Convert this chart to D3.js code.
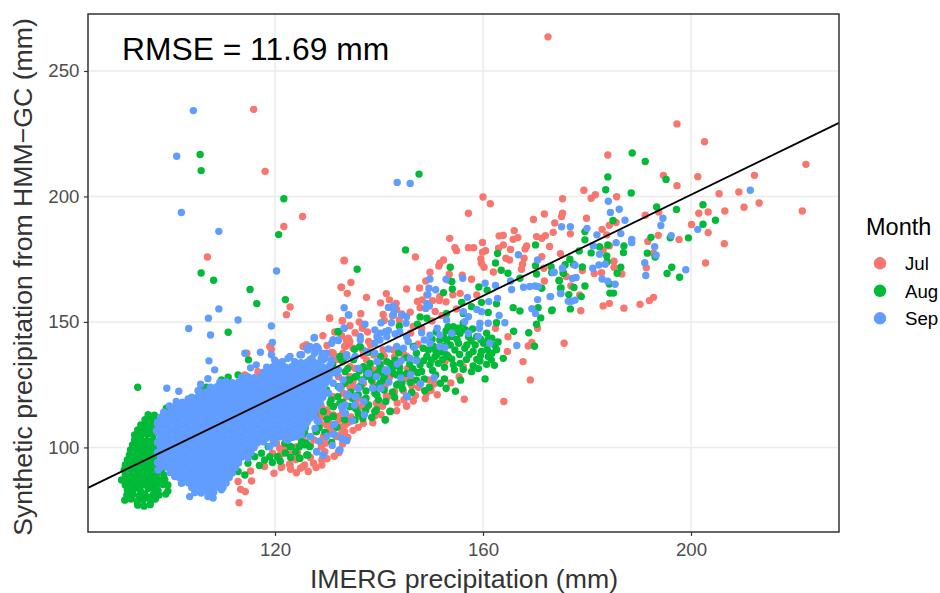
<!DOCTYPE html>
<html>
<head>
<meta charset="utf-8">
<script src="https://d3js.org/d3.v7.min.js"></script>
<style>
body { margin: 0; background: #fff; }
svg { display: block; }
text { font-family: "Liberation Sans", Arial, sans-serif; }
</style>
</head>
<body>
<svg width="940" height="593"></svg>
<script>
var months = ["Jul", "Aug", "Sep"];
var xTicks = [120, 160, 200];
var yTicks = [100, 150, 200, 250];
var fitX = [84.04, 228.46];
var fitY = [83.9, 229.3];

// [IMERG, synthetic]
var jul = [[197.3,228.9],[202.6,221.8],[222.1,212.8],[184,216.5],[194.7,208.4],[201.3,207.9],[212.2,208.4],[197.3,204.3],[179.4,202.5],[181.6,200.7],[180.8,199.3],[175.3,199.1],[185.7,199.9],[205.4,201.1],[209.2,201.8],[210.2,195.7],[213.1,197.4],[221.4,194.2],[206.5,194.2],[203.3,193.8],[201.5,193.3],[191.2,192.5],[193.8,193.8],[171.8,193],[175.3,193.3],[175.1,192],[179.9,191.3],[173.8,189.4],[185.6,189.6],[184.3,188.5],[182.9,186.9],[200.1,188.8],[173.5,185.7],[176.8,185.1],[172,184.4],[171.3,183.3],[183.8,184.7],[193.7,184.5],[191.7,182.1],[197.7,182.8],[203.3,185.6],[206.4,181.2],[172.8,180.1],[184.3,180.3],[183.1,178.7],[174.9,177.2],[171.3,176],[185.2,174.2],[202.8,173.5],[191.4,171.6],[185.2,171.8],[179.1,170.5],[181.4,169.3],[186.7,169.1],[182.8,169.6],[171.8,166.3],[171.7,171.4],[176,168.1],[176.9,164.3],[178.6,160.8],[192.8,159.8],[192,158.5],[190.2,157],[184.3,157.4],[183.1,156.4],[187.1,155.5],[178.8,154.5],[192.8,177.4],
[125.3,192],[160,199.8],[161.4,197.1],[157.2,193.3],[169.7,190.8],[166,186.4],[163.9,184.5],[163.1,184.3],[166.7,183.6],[165.8,182.9],[170.3,184],[153.6,183.3],[159.9,181.7],[163.9,180.7],[168.4,180.3],[168.1,179.1],[154.6,179.6],[154.9,178.4],[157.2,179.6],[158.2,179.6],[160.5,178.4],[159.9,177.8],[165.3,178.9],[163,179.4],[147,175.9],[133.3,174.6],[152.4,174.7],[151.7,173.4],[151.5,172.3],[159.6,175.1],[159.7,173.4],[160.2,171.8],[164.4,175.4],[165.1,174.7],[167.9,175.4],[167.6,173],[167.4,171],[162,169.9],[149.8,169.8],[153.5,169],[149,166.3],[156,168.6],[157.8,167],[153.3,166.7],[134.6,165.7],[132.8,163.8],[133.9,161.4],[145.3,163.1],[147.8,163.5],[141.4,161.3],[137.6,159.8],[142,158.8],[140.3,157.6],[143.3,157.4],[147.4,158.2],[148.3,158.8],[150.3,158.5],[151.6,158.5],[152.9,158],[155.6,161.4],[154.2,160.8],[158.8,160.8],[149.2,160.8],[151.7,160.1],[140.8,153],[136.5,153.3],[144.4,153.2],[130.5,151.6],[133,150.5],[134.4,148.5],[135.4,145.7],[134.1,143.5],[134.2,141.2],[133.5,140.2],[138,142.2],[138.4,140.8],[126,140.8],[130.9,137.8],[143.9,150.8],[162.4,147.5],[164.8,144.1],[170.5,147.5],[175.6,141.5],[169.4,141.8],[168.7,140.4],[164.7,138.2],[167.7,134.2],[169.1,126.9],[164,118.3],[156.4,119.2],[145.3,116.5],[156.2,132.2],[152.7,134.2],[149.5,126.9],[140.7,116.5],[135.1,124.2],[133.1,121.6],[132.2,112.3],[136.4,116.3],[135.7,118.9],[131.2,120.2],[133.8,126.9],[132.2,128.2],[134.4,132.2],[133.1,137.5],
[115.9,234.7],[118.1,210],[107,175.9],[172.5,263.6],[121.7,188],[133.3,174.4],[132.7,163.8],[122.9,156],[122.2,152.9],
[113.1,78],[114.3,82.4],[113.4,83.3],[112.9,86.4],[115.5,86.6],[115.3,90.6],[119.8,89.7],[121.2,92],[122.8,93.3],[123,91.3],[124.9,91.7],[125.7,93],[118,92.4],[124.3,98],[121.5,97.7],[121.9,99.7],[120.9,99.7],[119.5,97.7],[129.6,101.7],[129.6,103.7],[132.3,98],[129.9,109],[128.9,112.3],[130.2,113.6],[132.8,108.3],[133.4,106.3],[128.3,114.9],[128.9,116.3],[131.8,104.3],[130.5,151.5],[132.9,150.5],[119.3,139.1],[114.6,137.5],[126,140.8],[130.8,137.5],[114.2,128.9],[116.7,130.2],[133.7,142.8],[133.4,140.2],
[133.8,140.8],[134.4,142.2],[131.2,137.5],[138.3,141.5],[136.3,124.2],[134.4,124.2],[133.8,120.2],[132.5,117.6],[131.2,116.3],[129.9,114.9],[129.3,112.3],[131.2,112.9],[132.2,110.9],[133.5,109],[132.8,105.6],[130.6,108.3],[129.3,104.3],[129.6,101.7],[130.3,110.3],[128,118.9],[126.7,113.6],[127.4,116.3],[128.7,109.6],[125.4,103],[124.2,100.3],[121.6,99],[120.3,101.7],[121,97],[122.9,93],[125.4,92.4],[127.4,93.7],[121.3,92.4],[132.2,98.3],[129.6,98.3],[140.6,116.5],[145.3,116.5],[142.1,128.2],[141.2,124.9],[139.5,117.6],[137,118.9],[135.4,120.2],[132.8,124.2],[134.4,128.2],[138.3,132.2],[140.2,133.5],[145.3,136.2],[142.8,138.8],[140.8,138.8],[137.6,134.9],[135.4,131.5],[125.4,140.2],[119,140.2],
[131.5,146],[132.8,144.5],[136.8,147.5],[137.8,146],[136.2,150],[142.6,152.5],[143.4,155],[141,150.6],[129.2,144.5],[130,140.6],[135,139.5],[136.9,138.8],[139,136.8],[141,136.3],[143,136],[144.8,137],[131.8,135],[133,134.1],[137,136.6],[143.9,132.6],[145.5,131.5],[146.9,130.2],[139,130.9],[146.2,127.3],[144.7,122.6],[146.3,124.6],[147.6,124],[150,122.8],[150.6,125.3],[144.8,119],[143.5,117.7],[141.4,120.5],[137.7,116],[136.1,112.7],[134.6,112.1],[133,113.9],[134.1,109.9],[130.9,106],[127.5,103],[128.9,100.2],[126.8,100.8],[123,97.4],[124,95.2],[126.8,96],[129,95],[146.6,148.2],[148.2,147.5],[150.2,150.4],[152.1,152.6],[154.9,155.2],[146,153.9],[147.9,155.7],[150.8,154.2],[146.1,145.6],[147.5,141.1],
[135,126.2],[137,125.6],[138.9,125.1],[141.6,120],[143,122.3],[145,127.5],[147,120.7],[149.1,121.6],[151.2,121],[139.2,112.5],[137,109.6],[135,106.8],[133,101.4],[130,95.5],[127.9,92],[124.1,89.9],[126.4,90.4],[129,93],[131.4,96.5],[134,104],[136,108],[138.8,109.8],[140.4,113],[143.4,114.6],[146.6,118.5],[148.9,119.5],[153.8,125.7],[155.4,128.2]];

var aug = [[188.7,217.3],[191.2,213.9],[184,207.8],[195.2,206.8],[183.6,202.7],[188.5,201.4],[202.3,196.7],[193.4,195.8],[197.2,194.8],[204.7,190.5],[185,190.4],[202.3,188.9],[179.6,186],[179.6,182.7],[192.3,183.7],[196,183.5],[199.5,183.5],[182.4,180],[184,180.7],[187.1,180.3],[178.5,178.3],[180.8,177.5],[187,177.6],[191.6,177.4],[183.8,176.3],[193.1,175.9],[176.7,175],[183.9,174],[175.8,172.8],[177.4,173],[179.1,171.9],[186.5,171.8],[173.1,172],[196.3,171.8],[195.4,169.3],[197.8,167.8],[185.8,169.4],[173.2,169.7],[175.4,169.5],[174.6,166.5],[175,163.5],[177.5,163.7],[179.6,164.3],[176.5,160.9],[178.9,160.1],[184.4,161.5],[185.1,161.5],[171.3,163.4],[184.3,165.1],[173.3,154.8],[176.8,155.2],
[145.1,178.7],[135.8,171],[170.1,180.7],[162.8,177.3],[162.4,173.5],[153.7,171.8],[163.5,170.6],[164.8,169.4],[170.1,172.4],[170.3,169.1],[167.1,167.4],[174.7,166.5],[174.9,163.4],[175.5,169.4],[154,166.1],[154.1,163.1],[152.4,161.7],[159.2,163.9],[160.8,162.6],[162.6,157.2],[159.7,157.8],[157.8,156.1],[155.9,157.8],[161,153.8],[162.6,149.7],[165.8,155.7],[167.1,154.4],[170.6,155.7],[173.2,154.5],[171.1,151.6],[170.3,149.1],[165.9,146.3],[168.8,145.7],[169.9,140.3],[132.2,146.1],[136.4,140],[147.9,152],[149.2,151.5],[143.9,148.4],[147.4,149.1],[153,153.4],
[156.2,153.4],[154.3,148.1],[155.3,147.5],[153.3,148.1],[156.2,149.5],[152.4,144.2],[154,144.2],[155.6,145.5],[157.2,144.2],[158.8,144.2],[160.7,145.5],[161.7,143.5],[151.7,142.8],[153.7,140.8],[155.3,141.5],[156.9,140.8],[158.5,140.8],[160.1,141.5],[162.3,140.6],[150.5,140.2],[152.4,140.2],[149.5,138.8],[151.1,136.9],[153,136.9],[154.6,138.8],[156.5,139.5],[158.1,138.2],[159.7,138.2],[161.7,137.5],[163.9,135.5],[149.2,136.2],[150.8,136.2],[153.3,136.2],[158.8,135.1],[161,136.2],[147.9,132.9],[149.8,132.9],[151.4,133.5],[152.6,131.9],[154.3,132.9],[155.6,133.5],[158.1,132.5],[160.7,133.1],[162.2,132.7],[154.5,130.9],[157.8,130.2],[160.4,127.3],[150.9,128.9],[148.7,127.3],[147.2,126.8],[151.8,125.6],[148.8,122.6],[154.7,122.4],[146.6,140.2],[147.2,137.5],[148.5,139.5],
[150.2,143.1],[151,146],[152.9,146.5],[154.8,146.2],[156.6,146.9],[158,147.2],[159.6,143],[161,142.9],[162.9,142],[157.7,142.5],[155,143],[153,142.8],[150.9,138.5],[152,138],[155.5,137],[157.3,136.9],[159.5,136.5],[160.8,139],[162.6,138.9],[148.6,134.6],[150.1,134.8],[152.2,135],[154,135.2],[156.8,135],[159.4,134.4],[161.6,134.9],[156.2,131.1],[159.1,131.4],[146.5,131.4],[145.3,129.5],[147.5,129.8],[145.9,133.2],[144,131.6],[142.8,129.5],[141,128.4],[139.9,129.9],[137.6,130.1],[136.2,130.5],[136.5,124.6],[134.6,122],[137.5,122.5],[139.9,119],[141.3,118.3],[138,116.9],[136.9,111.5],
[133,118],[134.9,119.5],[136,121],[137.5,119.6],[139,124],[141,122.9],[142.6,122],[144.5,123.4],[146,125.9],[143,120],[135.5,115.5],[137.4,114.6],[133.4,111],[138.6,111.9],[130,111.2],[128.5,107.9],[130.9,102],[124,98.2],[122,97.8],[119.5,94],[117,92.8],[121,94.5],[123,96],[146.3,122],[149.7,124],[152.6,127.3],[155.7,126.8],[152.9,123.6],[148.2,130.3],[150.3,130.7],[145.2,135.7],[143.8,137.7],[140.3,136.2],[137.9,137.9],[135.3,139.1],[131.1,133],[134,131.4],
[143.7,125.3],[144.4,125.6],[143.4,128.9],[142.1,130.9],[141.5,134.2],[140.2,132.2],[138.9,128.9],[138,130.9],[136.7,126.9],[135.4,128.2],[138.6,126.9],[139.2,121.6],[134.4,116.3],[131.2,116.3],[130.6,117.6],[128,117.6],[139.5,115],[142.1,114.3],[141.2,111],[137.3,118.9],[132.5,136.2],[134.4,126.9],[128.7,121.6],[126.4,115],[140.2,125.6],[142.8,132.2],[147.2,134.9],
[105.6,216.7],[105.8,210.3],[121.7,199.1],[120.7,184.8],[105.8,169.5],[108.2,166.6],[115.2,162.9],[116.5,157.3],[122,158.9],[147.7,208.9],[93.6,124],[111,145.9],[114.9,134.9],[112.9,128.9],[111,128],[106.8,124],[99.1,115.6],[101,116],[99.7,113.2],[127,131.5],[132.1,146.1],[133.2,135.5],
[114.8,93.7],[116.1,96.3],[118,95],[117.4,97.7],[119,96.3],[120.5,96.3],[118.7,100.3],[121.9,101.7],[123.1,100.3],[124.7,100.3],[126,101.7],[126.3,97],[124.7,95.7],[125.7,105.6],[126.3,114.9],[128.3,119.6],[128.9,124.2],[130.8,118.9],[131.2,116.3],[132.1,120.2],[133.4,125.6],[129.9,122.9],[131.2,112.3],[131.8,108.3],[129.7,106],[127.9,106.3],[125.7,108.3],[114.2,89],[112.9,90.4],[109.7,126.9],[105.8,123.6],[121.9,130.2],[125.1,131.5],[128.9,132.2],[132.8,134.9],
[136.3,140.2],[132.5,136.2],[138.3,133.5],[140.2,132.9],[142.1,133.5],[143.1,134.9],[144,129.5],[143.4,124.9],[140.8,126.9],[138.6,126.9],[135.7,128.2],[134.1,126.9],[133.5,130.2],[135.1,134.9],[130.3,130.2],[128.7,119.6],[127.7,112.9],[129.3,114.3],[131.2,112.3],[132.5,117.6],[134.4,116.3],[136,113.6],[135.4,110.9],[139.2,114.3],[141.2,110.9],[142.2,114.4],[139.6,120.9],[132.2,124.2],[126.7,131.5],[123.5,130.2],[125.8,114.9],[125.8,107.6],[128,106.3],[129.6,106],[131.9,108],[125.1,102.3],[125.8,101],[126.7,100.3],[122.9,100.3],[120.5,96.3],[124.8,95.7],[126.1,97],[137.6,128.2],[137,132.2],
// green lobe on the left
[93.6,77],[94.8,76.6],[96,77.2],[91.1,79],[92.3,79.4],[93.5,78.6],[94.7,79.2],[96.1,78.8],[97,79.4],[91.5,81],[92.7,81.2],[93.9,80.8],[94.9,81.5],[95.7,80.2],[96.6,81.2],[97.7,81],[99,81.4],[91.6,83],[92.8,83.2],[94.1,82.9],[95.6,83.6],[96.7,83.4],[97.5,82.8],[99.4,82.6],[91.2,85],[92.4,85.2],[93.6,84.8],[94.8,85.2],[96,85],[97.2,84.8],[98.4,85.2],[99.4,85],[90.5,87],[91.6,87.2],[92.8,86.8],[94,87],[95.2,87.2],[96.4,86.8],[97.6,87],[98.8,87.2],[91.2,89],[92.4,88.8],[93.6,89.2],[94.8,89],[96,88.8],[97.2,89.2],[98.6,89],[91,91],[92.2,91.2],[93.4,90.8],[94.6,91],[95.8,91.2],[97,90.8],[98.2,91],[91.2,93],[92.4,92.8],[93.6,93.2],[94.8,93],[96,92.8],[97.2,93.2],[91.6,95],[92.8,95.2],[94,94.8],[95.2,95],[96.4,95.2],[97.6,94.8],[92,97],[93.2,96.8],[94.4,97.2],[95.6,97],[96.8,96.8],[92.2,99],[93.4,99.2],[94.6,98.8],[95.8,99],[97,99.2],[92.6,101],[93.8,100.8],[95,101.2],[96.2,101],[97.4,100.8],[93,103],[94.2,103.2],[95.4,102.8],[96.6,103],[93,105],[94.2,104.8],[95.4,105.2],[96.6,105],[93.6,107],[94.8,107.2],[96,106.8],[97.2,107],[94.2,109],[95.4,108.8],[96.6,109.2],[95,111],[96.2,111.2],[97.4,110.8],[95.6,113],[96.8,112.8]];

var sep = [[211.4,202.5],[184.1,198.1],[186.2,194.9],[184.5,193.6],[187.3,190.5],[194.6,191.3],[194.2,188.4],[175.1,187.9],[176.8,187.9],[180,187.3],[181.9,184.7],[186.5,185.2],[196.2,184.4],[201.3,186.9],[188.6,182.9],[188.6,181.6],[185.6,181.6],[181.2,180.3],[193,180],[182.4,177],[193.3,176.6],[191.1,173.6],[177.7,172.6],[182.3,172.7],[183.5,173],[181.1,171.4],[175.3,171.4],[173.5,169.7],[199,170.8],[191.3,168.5],[177.9,167.7],[177.2,167.3],[182.9,167.1],[184,166.2],[185.4,165],[175,161.3],[172.9,160.1],[176.4,158.2],[177,158.2],[177.7,158.7],
[143.5,205.6],[146,205.2],[166.8,176.8],[170.5,174.7],[175.3,171.4],[173.7,169.8],[149.8,167.1],[152.9,167],[156.1,167.4],[160.4,165.4],[162.4,164.5],[165.3,166.3],[165.5,162.9],[167.8,163.8],[169,164.1],[170,164.3],[170.6,164.1],[150.9,162.8],[149.6,163.4],[149.4,160.8],[157,159.8],[162.8,159.4],[174.9,161.3],[173,160.1],[170.5,158.9],[161.1,158.1],[149.2,157.4],[149.7,156.4],[149,155.4],[158.8,155],[159.7,154.1],[169.4,155.3],[170.1,153.4],[163.1,152.6],[164.2,149.7],[156.2,154.1],[157.2,152.1],[156.5,150.1],[153,150.8],[159.4,149.5],[161,149.5],[159.3,147.5],[151.2,147.5],[151.7,144.8],[154,145.5],[157.2,145.5],[159.1,144.2],[161.3,141.5],[166.5,140.6],[148.2,145.7],[149.8,144.7],[148.7,142.8],[149.8,141.5],[151.7,140.2],[152.7,139.8],[146.8,139.8],[142.8,156.4],[141.8,155.8],[142.9,154.5],[142.8,152.8],[144.4,152.8],[145.3,152.1],[145.2,149.5],[142.4,149.7],[133.3,155.7],[134.2,152.8],[133.3,147.5],[137.3,149.1],[140.4,149.7],[139.2,146.8],[140.2,145.5],[141.2,146.1],[141.8,146.6],[139.6,144.1],[141.5,144.1],[140.2,142.8],[139.2,141.5],[136.4,144.2],[136.4,142.8],[131.2,142.8],[132.2,142.6],[127.5,143.6],[143.1,145.2],[144,146.1],[145.3,144.1],[145.6,142.2],[144.7,139.5],[143.4,140.2],[141.8,139.2],[146,135.5],[147.2,134.5],[144.3,134.6],[139.7,134.2],[133.8,136.2],[135.4,136.2],[137.6,138.2],[139.2,137.5],[126.7,140.2],[128,139.5],[129,137.5],[129.6,135.5],[126.7,134.9],[128,132.9],[130.9,134.2],[129,131.5],[132.2,130.9],[136.1,131.5],[138,129.5],[141.2,130.9],[141.6,130.2],[130.3,126.9],[131.2,125.6],[132.5,123.6],[134.1,120.9],[135.4,120.2],[136,123.6],[138.8,123.6],[140.4,123.6],[150.6,127.8],[148,125.4],[145.5,120.2],[132.8,116.3],[133.5,113.6],[127.4,123.6],[125.8,120.2],[128.7,117.6],[125.4,126.9],[126.7,128.9],
[104.3,234.2],[101.1,216],[102,193.6],[109.2,186.1],[120.3,170.3],[109.2,155.2],[107.2,151.5],[112.9,150.8],[134.1,152.8],[103.4,147.4],[107.6,144.8],[119.3,148.4],[127.6,143.8],[119.5,141.8],[131.2,142.8],[132.1,142.8],[114.2,137.5],[117.2,137.9],[107.3,134.5],[108.4,130.9],[107.1,127.4],[105.7,125.2],[116.4,132.9],[115.3,131.7],[99.2,123.6],[101.5,122.4],[105.2,122.6],[99.7,116.5],[101,118.3],[103.3,119.3],[98.8,111.9],[97.4,109.4],[97.2,106.7],[133.3,147.5],
[119,100.3],[119.9,101.7],[122.5,103],[124.1,104.3],[125.1,105.2],[126.9,104.3],[126,110.9],[127.6,112.9],[126.7,111.6],[128,98.3],[129.2,97],[132.4,99],[131.3,105.2],[133.1,103.2],[133.7,103],[133.4,113.6],[133.1,116.3],[134,120.9],[131.3,109],[128.3,110.3],[122.5,135.5],[123.8,134.2],[125.1,136.9],[126.3,138.8],[128.3,139.5],[127.6,137.5],[119,130.9],[119.9,134.9],[120.6,133.5],[119.3,136.9],[129.9,137.5],[128.9,135.5],[130.8,134.9],[129.6,129.5],[103.6,80.4],[104.6,82.4],[107.1,80.4],[108.1,79.8],[109.7,83.1],[97.8,93.7],[97.5,91],[100.7,88.4],[102,85.7],
[122.9,136.2],[124.8,136.9],[126.1,139.5],[128,140.2],[129.6,136.9],[127.7,138.8],[129.3,134.9],[130.6,132.9],[128,132.2],[124.8,132.2],[127.1,135.5],[131.9,129.5],[133.1,126.9],[130.3,121.6],[129.3,123.6],[132.5,124.2],[133.9,121.2],[135.6,120.2],[136,123.6],[137.1,118.3],[133.5,116.9],[132.9,115.6],[133.5,113.6],[127.4,112.9],[126.6,111.6],[128.1,110.6],[127.7,107.6],[131.4,109.2],[131.4,105.2],[132.8,103.7],[133.8,102.7],[132.5,99],[128,98.3],[129.3,97],[126.7,104.3],[123.8,104.3],[122.2,103],[119.7,102.3],[137.9,129.5],[139.6,134.2],[141.5,130.9],[138.8,123.6],[140.3,123.6],[145.3,120.5],[133.8,136.9],[136,131.5],[130.9,141.5],
[136.8,126.5],[139.5,128.2],[141.9,126],[144.2,127.7],[143.5,133.2],[146.1,129],[135.3,116.8],[137.2,113],[131,100.8],[134.9,110.6],[130,104.5],[128.5,102.5],
// the solid blue mass, row by row
[104.6,82],[105.8,81.8],[107,82.2],[108.2,82],
[104,84],[105.2,84.2],[106.4,83.8],[107.6,84],[108.8,84.2],[110,84],
[102.2,86],[103.4,85.8],[104.6,86.2],[105.8,86],[107,85.8],[108.2,86.2],[109.4,86],[110.6,85.8],
[101.6,88],[102.8,88.2],[104,87.8],[105.2,88],[106.4,88.2],[107.6,87.8],[108.8,88],[110,88.2],[111.2,88],
[99.8,90],[101,89.8],[102.2,90.2],[103.4,90],[104.6,89.8],[105.8,90.2],[107,90],[108.2,89.8],[109.4,90.2],[110.6,90],[111.8,89.8],
[98,92],[99.2,92.2],[100.4,91.8],[101.6,92],[102.8,92.2],[104,91.8],[105.2,92],[106.4,92.2],[107.6,91.8],[108.8,92],[110,92.2],[111.2,91.8],[112.4,92],
[97.4,94],[98.6,93.8],[99.8,94.2],[101,94],[102.2,93.8],[103.4,94.2],[104.6,94],[105.8,93.8],[107,94.2],[108.2,94],[109.4,93.8],[110.6,94.2],[111.8,94],[113,93.8],
[98,96],[99.2,96.2],[100.4,95.8],[101.6,96],[102.8,96.2],[104,95.8],[105.2,96],[106.4,96.2],[107.6,95.8],[108.8,96],[110,96.2],[111.2,95.8],[112.4,96],[113.6,96.2],[114.8,95.8],
[97.4,98],[98.6,97.8],[99.8,98.2],[101,98],[102.2,97.8],[103.4,98.2],[104.6,98],[105.8,97.8],[107,98.2],[108.2,98],[109.4,97.8],[110.6,98.2],[111.8,98],[113,97.8],[114.2,98.2],[115.4,98],
[98,100],[99.2,100.2],[100.4,99.8],[101.6,100],[102.8,100.2],[104,99.8],[105.2,100],[106.4,100.2],[107.6,99.8],[108.8,100],[110,100.2],[111.2,99.8],[112.4,100],[113.6,100.2],[114.8,99.8],[116,100],
[97.4,102],[98.6,101.8],[99.8,102.2],[101,102],[102.2,101.8],[103.4,102.2],[104.6,102],[105.8,101.8],[107,102.2],[108.2,102],[109.4,101.8],[110.6,102.2],[111.8,102],[113,101.8],[114.2,102.2],[115.4,102],[116.6,101.8],[117.8,102.2],
[98,104],[99.2,104.2],[100.4,103.8],[101.6,104],[102.8,104.2],[104,103.8],[105.2,104],[106.4,104.2],[107.6,103.8],[108.8,104],[110,104.2],[111.2,103.8],[112.4,104],[113.6,104.2],[114.8,103.8],[116,104],[117.2,104.2],[118.4,103.8],[119.6,104],[120.8,104.2],[122,103.8],[123.2,104],
[97.4,106],[98.6,105.8],[99.8,106.2],[101,106],[102.2,105.8],[103.4,106.2],[104.6,106],[105.8,105.8],[107,106.2],[108.2,106],[109.4,105.8],[110.6,106.2],[111.8,106],[113,105.8],[114.2,106.2],[115.4,106],[116.6,105.8],[117.8,106.2],[119,106],[120.2,105.8],[121.4,106.2],[122.6,106],[123.8,105.8],[125,106.2],
[98,108],[99.2,108.2],[100.4,107.8],[101.6,108],[102.8,108.2],[104,107.8],[105.2,108],[106.4,108.2],[107.6,107.8],[108.8,108],[110,108.2],[111.2,107.8],[112.4,108],[113.6,108.2],[114.8,107.8],[116,108],[117.2,108.2],[118.4,107.8],[119.6,108],[120.8,108.2],[122,107.8],[123.2,108],[124.4,108.2],[125.6,107.8],
[97.4,110],[98.6,109.8],[99.8,110.2],[101,110],[102.2,109.8],[103.4,110.2],[104.6,110],[105.8,109.8],[107,110.2],[108.2,110],[109.4,109.8],[110.6,110.2],[111.8,110],[113,109.8],[114.2,110.2],[115.4,110],[116.6,109.8],[117.8,110.2],[119,110],[120.2,109.8],[121.4,110.2],[122.6,110],[123.8,109.8],[125,110.2],[126.2,110],
[98,112],[99.2,112.2],[100.4,111.8],[101.6,112],[102.8,112.2],[104,111.8],[105.2,112],[106.4,112.2],[107.6,111.8],[108.8,112],[110,112.2],[111.2,111.8],[112.4,112],[113.6,112.2],[114.8,111.8],[116,112],[117.2,112.2],[118.4,111.8],[119.6,112],[120.8,112.2],[122,111.8],[123.2,112],[124.4,112.2],[125.6,111.8],[126.8,112],
[98.6,114],[99.8,113.8],[101,114.2],[102.2,114],[103.4,113.8],[104.6,114.2],[105.8,114],[107,113.8],[108.2,114.2],[109.4,114],[110.6,113.8],[111.8,114.2],[113,114],[114.2,113.8],[115.4,114.2],[116.6,114],[117.8,113.8],[119,114.2],[120.2,114],[121.4,113.8],[122.6,114.2],[123.8,114],[125,113.8],[126.2,114.2],[127.4,114],
[100.4,116],[101.6,116.2],[102.8,115.8],[104,116],[105.2,116.2],[106.4,115.8],[107.6,116],[108.8,116.2],[110,115.8],[111.2,116],[112.4,116.2],[113.6,115.8],[114.8,116],[116,116.2],[117.2,115.8],[118.4,116],[119.6,116.2],[120.8,115.8],[122,116],[123.2,116.2],[124.4,115.8],[125.6,116],[126.8,116.2],[128,115.8],
[102.2,118],[103.4,118.2],[104.6,117.8],[105.8,118],[107,118.2],[108.2,117.8],[109.4,118],[110.6,118.2],[111.8,117.8],[113,118],[114.2,118.2],[115.4,117.8],[116.6,118],[117.8,118.2],[119,117.8],[120.2,118],[121.4,118.2],[122.6,117.8],[123.8,118],[125,118.2],[126.2,117.8],[127.4,118],[128.6,118.2],
[104,120],[105.2,120.2],[106.4,119.8],[107.6,120],[108.8,120.2],[110,119.8],[111.2,120],[112.4,120.2],[113.6,119.8],[114.8,120],[116,120.2],[117.2,119.8],[118.4,120],[119.6,120.2],[120.8,119.8],[122,120],[123.2,120.2],[124.4,119.8],[125.6,120],[126.8,120.2],[128,119.8],[129.2,120],
[105.8,122],[107,122.2],[108.2,121.8],[109.4,122],[110.6,122.2],[111.8,121.8],[113,122],[114.2,122.2],[115.4,121.8],[116.6,122],[117.8,122.2],[119,121.8],[120.2,122],[121.4,122.2],[122.6,121.8],[123.8,122],[125,122.2],[126.2,121.8],[127.4,122],[128.6,122.2],[129.8,121.8],
[107.6,124],[108.8,124.2],[110,123.8],[111.2,124],[112.4,124.2],[113.6,123.8],[114.8,124],[116,124.2],[117.2,123.8],[118.4,124],[119.6,124.2],[120.8,123.8],[122,124],[123.2,124.2],[124.4,123.8],[125.6,124],[126.8,124.2],[128,123.8],[129.2,124],
[109.4,126],[110.6,126.2],[111.8,125.8],[113,126],[114.2,126.2],[115.4,125.8],[116.6,126],[117.8,126.2],[119,125.8],[120.2,126],[121.4,126.2],[122.6,125.8],[123.8,126],[125,126.2],[126.2,125.8],[127.4,126],[128.6,126.2],[129.8,125.8],
[113.6,128],[114.8,128.2],[116,127.8],[117.2,128],[118.4,128.2],[119.6,127.8],[120.8,128],[122,128.2],[123.2,127.8],[124.4,128],[125.6,128.2],[126.8,127.8],[128,128],[129.2,128.2],[130.4,127.8],
[117.8,130],[119,130.2],[120.2,129.8],[121.4,130],[122.6,130.2],[123.8,129.8],[125,130],[126.2,130.2],[127.4,129.8],[128.6,130],[129.8,130.2],[131,129.8],
[118.4,132],[119.6,132.2],[120.8,131.8],[122,132],[123.2,132.2],[124.4,131.8],[125.6,132],[126.8,132.2],[128,131.8],[129.2,132],[130.4,132.2],
[120.2,134],[121.4,134.2],[125,133.8],[126.2,134],[127.4,134.2],[128.6,133.8]];

var svg = d3.select("svg");
var x = d3.scaleLinear().domain([84.04, 228.46]).range([88, 839]);
var y = d3.scaleLinear().domain([66.3, 272.7]).range([532, 14]);
var color = d3.scaleOrdinal().domain(months).range(["#F8766D", "#00BA38", "#619CFF"]);

// grid first
svg.append("g").selectAll("line").data(xTicks).join("line")
    .attr("x1", d => x(d)).attr("x2", d => x(d))
    .attr("y1", 14).attr("y2", 532)
    .attr("stroke", "#EBEBEB").attr("stroke-width", 1.5);
svg.append("g").selectAll("line").data(yTicks).join("line")
    .attr("x1", 88).attr("x2", 839)
    .attr("y1", d => y(d)).attr("y2", d => y(d))
    .attr("stroke", "#EBEBEB").attr("stroke-width", 1.5);

[jul, aug, sep].forEach(function(points, i) {
    svg.append("g").selectAll("circle").data(points).join("circle")
        .attr("cx", d => x(d[0]))
        .attr("cy", d => y(d[1]))
        .attr("r", 3.7)
        .attr("fill", color(months[i]));
});

svg.append("line")
    .attr("x1", x(fitX[0])).attr("y1", y(fitY[0]))
    .attr("x2", x(fitX[1])).attr("y2", y(fitY[1]))
    .attr("stroke", "#000").attr("stroke-width", 1.8);

svg.append("rect")
    .attr("x", 88).attr("y", 14).attr("width", 751).attr("height", 518)
    .attr("fill", "none").attr("stroke", "#333").attr("stroke-width", 1.5);

var xAxis = svg.append("g").attr("transform", "translate(0,532)")
    .call(d3.axisBottom(x).tickValues(xTicks).tickSize(4).tickPadding(6.5));
var yAxis = svg.append("g").attr("transform", "translate(88,0)")
    .call(d3.axisLeft(y).tickValues(yTicks).tickSize(4).tickPadding(4.5));
[xAxis, yAxis].forEach(function(a) {
    a.select(".domain").remove();
    a.selectAll("line").attr("stroke", "#333").attr("stroke-width", 1.2);
    a.selectAll("text").attr("fill", "#4D4D4D").style("font-size", "18.67px")
        .style("font-family", '"Liberation Sans", Arial, sans-serif');
});

svg.append("text").attr("x", 464).attr("y", 587.5).attr("text-anchor", "middle")
    .attr("fill", "#333").style("font-size", "26.67px").text("IMERG precipitation (mm)");
svg.append("text").attr("transform", "translate(31.5,277) rotate(-90)").attr("text-anchor", "middle")
    .attr("fill", "#333").style("font-size", "26.67px").text("Synthetic precipitation from HMM\u2212GC (mm)");
svg.append("text").attr("x", 122).attr("y", 59.5)
    .attr("fill", "#000").style("font-size", "31.8px").text("RMSE = 11.69 mm");

// legend
svg.append("text").attr("x", 866).attr("y", 235).attr("fill", "#000").style("font-size", "23.5px").text("Month");
var key = svg.append("g").selectAll("g").data(months).join("g")
    .attr("transform", (d, i) => "translate(880," + (263.3 + i * 27.5) + ")");
key.append("circle").attr("r", 6.2).attr("fill", d => color(d));
key.append("text").attr("x", 25).attr("y", 6.7).attr("fill", "#000").style("font-size", "18.67px").text(d => d);
</script>
</body>
</html>
